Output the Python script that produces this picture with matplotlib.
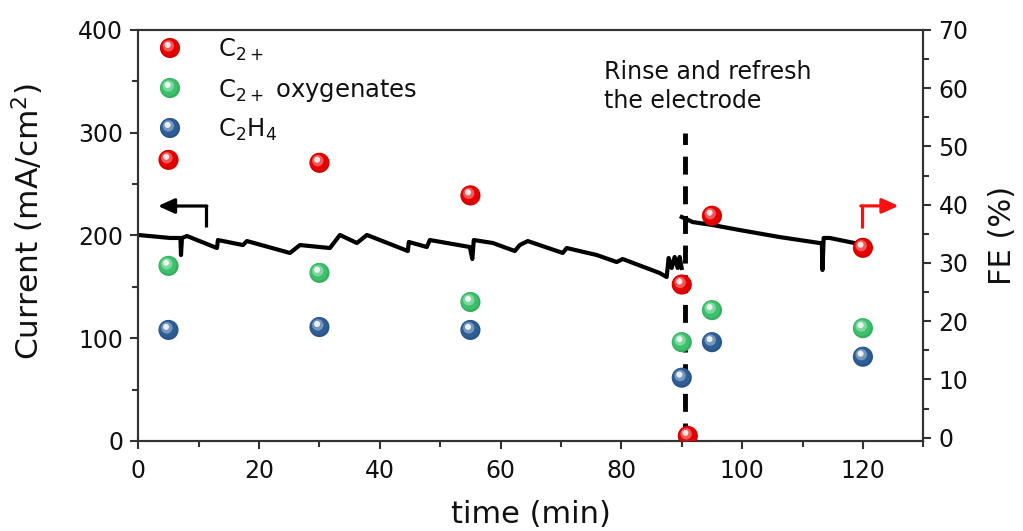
import numpy as np
import matplotlib
matplotlib.use("Agg")
import matplotlib.pyplot as plt
from matplotlib.transforms import ScaledTranslation
from matplotlib.colors import to_rgb

plt.rcParams['font.family'] = ['DejaVu Sans']
plt.rcParams['mathtext.fontset'] = 'dejavusans'

# ---- data ----
# current trace (time in min, current in mA/cm2); NaN marks the break at the rinse step
cur_time = [0.0, 5.25, 6.98, 7.07, 7.23, 8.06, 13.03, 13.19, 17.33, 17.99, 25.11, 26.77,
            31.73, 33.39, 36.2, 37.86, 40.0, 44.64, 44.8, 47.78, 48.28, 54.9, 55.31, 55.56,
            58.71, 62.35, 63.17, 64.5, 70.29, 70.95, 75.92, 79.22, 80.22, 86.34, 87.5,
            87.83, 88.33, 88.82, 89.32, 89.65, 89.98, 89.99,
            90.0, 91.8, 95.1, 99.6, 106.2, 112.8, 113.2, 113.3, 113.5, 114.5, 119.4, 119.8]
cur_val = [200.5, 197.6, 197.6, 181.0, 197.6, 199.5, 187.8, 195.6, 190.7, 194.6, 183.0, 190.7,
           187.8, 200.5, 192.7, 200.5, 195.6, 184.9, 193.7, 188.8, 195.6, 188.8, 177.1, 195.6,
           192.7, 184.9, 190.7, 194.6, 183.0, 187.8, 181.0, 174.2, 177.1, 163.5, 159.6,
           178.1, 168.4, 179.1, 168.4, 179.1, 168.4, np.nan,
           218.0, 213.1, 210.2, 205.3, 198.5, 192.7, 192.7, 166.4, 197.6, 197.6, 191.7, 190.7]

c2p_time = [5, 30, 55, 90, 91, 95, 120]
c2p_fe = [47.7, 47.2, 41.6, 26.3, 0.3, 38.1, 32.6]
oxy_time = [5, 30, 55, 90, 95, 120]
oxy_fe = [29.5, 28.3, 23.3, 16.4, 21.9, 18.8]
eth_time = [5, 30, 55, 90, 95, 120]
eth_fe = [18.5, 19.0, 18.5, 10.3, 16.4, 13.9]

labels = [r'C$_{2+}$', r'C$_{2+}$ oxygenates', r'C$_2$H$_4$']
colors = ['#E80000', '#3CC06C', '#2E5E96']

rinse_time = 90.6
note = 'Rinse and refresh\nthe electrode'

# ---- figure ----
fig = plt.figure(figsize=(10.23, 5.31), dpi=100)
ax = fig.add_axes([138.3/1023, 1-441/531, (923.3-138.3)/1023, (441-30)/531])
ax2 = ax.twinx()

spine_c = '#333333'
for a in (ax, ax2):
    for s in a.spines.values():
        s.set_color(spine_c)
        s.set_linewidth(1.5)

ax.set_xlim(0, 130)
ax.set_ylim(0, 400)
ax2.set_ylim(-0.57, 70)

ax.set_xticks(np.arange(0, 121, 20))
ax.set_xticks(np.arange(10, 131, 20), minor=True)
ax.set_yticks(np.arange(0, 401, 100))
ax.set_yticks(np.arange(50, 400, 100), minor=True)
ax2.set_yticks(np.arange(0, 71, 10))
ax2.set_yticks(np.arange(5, 70, 10), minor=True)

for a in (ax, ax2):
    a.tick_params(which='major', direction='out', length=6, width=1.5, color=spine_c,
                  labelsize=17, labelcolor='#111111', pad=5)
    a.tick_params(which='minor', direction='out', length=4, width=1.5, color=spine_c)
ax.tick_params(axis='x', pad=7)

# current trace
ax.plot(cur_time, cur_val, color='black', lw=3, solid_joinstyle='round', zorder=3)

# dashed line
ax.plot([rinse_time, rinse_time], [0, 300], color='black', lw=3.5,
        linestyle=(0, (3.7, 2.4)), zorder=2)

ax.text(77.1, 371, note, fontsize=17, ha='left', va='top', linespacing=1.3, color='#111111')

# black arrow (current -> left axis)
ax.plot([11.2, 11.2], [208.3, 228.7], color='black', lw=2.3, solid_capstyle='butt')
ax.annotate('', xy=(3.26, 228.7), xytext=(11.35, 228.7),
            arrowprops=dict(arrowstyle='-|>,head_length=0.55,head_width=0.25',
                            color='black', lw=2.3, shrinkA=0, shrinkB=0, mutation_scale=18))

# red arrow (FE -> right axis)
ax2.plot([119.8, 119.8], [36.0, 39.8], color='#FF1010', lw=2.3, solid_capstyle='butt')
ax2.annotate('', xy=(125.9, 39.8), xytext=(119.65, 39.8),
             arrowprops=dict(arrowstyle='-|>,head_length=0.55,head_width=0.25',
                             color='#FF1010', lw=2.3, shrinkA=0, shrinkB=0, mutation_scale=18))


def lighten(c, f):
    r, g, b = to_rgb(c)
    return (r + (1 - r) * f, g + (1 - g) * f, b + (1 - b) * f)


def darken(c, f):
    r, g, b = to_rgb(c)
    return (r * (1 - f), g * (1 - f), b * (1 - f))


def sphere(a, x, y, color, transform=None, s=210, z=5):
    base_t = transform if transform is not None else a.transData
    def off(dx, dy):
        return base_t + ScaledTranslation(dx / 72, dy / 72, fig.dpi_scale_trans)
    a.scatter(x, y, s=s, color=darken(color, 0.1), edgecolors='none', transform=base_t, zorder=z)
    a.scatter(x, y, s=s * 0.75, color=color, edgecolors='none', transform=off(-0.5, 0.6), zorder=z + 0.1)
    a.scatter(x, y, s=s * 0.32, color=lighten(color, 0.35), edgecolors='none', transform=off(-1.2, 1.5), zorder=z + 0.2)
    a.scatter(x, y, s=s * 0.09, color='white', alpha=0.85, edgecolors='none', transform=off(-1.7, 2.2), zorder=z + 0.3)


sphere(ax2, c2p_time, c2p_fe, colors[0])
sphere(ax2, oxy_time, oxy_fe, colors[1])
sphere(ax2, eth_time, eth_fe, colors[2])

# legend (drawn in axes coordinates)
for i, (lab, col) in enumerate(zip(labels, colors)):
    yc = 1 - (48 - 30 + 40 * i) / 411
    sphere(ax2, [31.7 / 785], [yc], col, transform=ax2.transAxes, s=210)
    ax2.text(79.7 / 785, yc - 8.5 / 411, lab, transform=ax2.transAxes, fontsize=17.5,
             ha='left', va='baseline', color='#111111')

ax.set_xlabel('time (min)', fontsize=22, color='#111111')
ax.xaxis.set_label_coords(0.5, -0.143)
ax.set_ylabel('Current (mA/cm$^2$)', fontsize=22.5, color='#111111')
ax.yaxis.set_label_coords(-0.118, 0.535)
ax2.set_ylabel('FE (%)', fontsize=22, color='#111111')
ax2.yaxis.set_label_coords(1.082, 0.5)

fig.savefig('out.png', dpi=100)
